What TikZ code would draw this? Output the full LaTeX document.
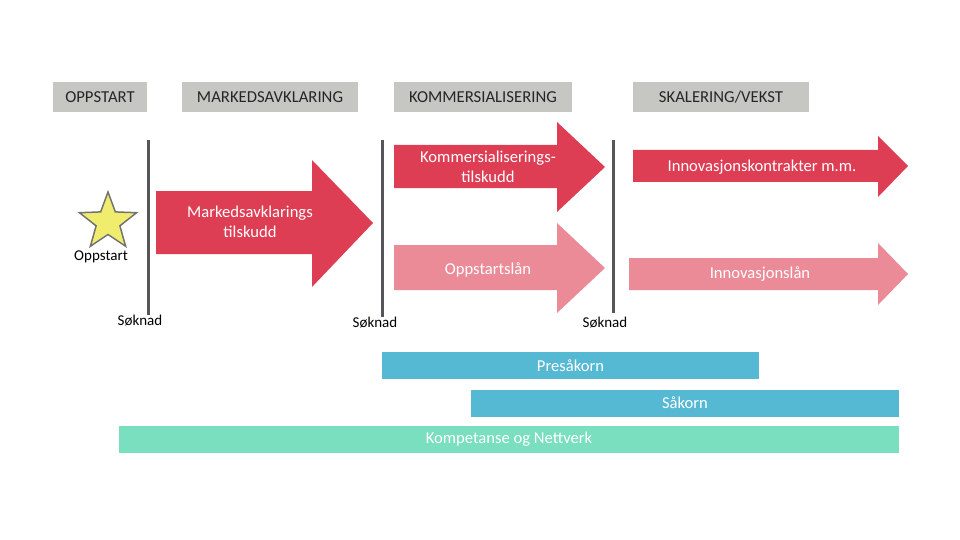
\documentclass[tikz,border=0pt]{standalone}
\usepackage{fontspec}
\setmainfont{Carlito}
\usepackage{xcolor}
\usepackage{tikz}
\usetikzlibrary{shapes.geometric}
\definecolor{hdrgray}{RGB}{198,198,194}
\definecolor{darkred}{RGB}{222,62,84}
\definecolor{lightred}{RGB}{236,139,152}
\definecolor{barblue}{RGB}{86,185,211}
\definecolor{bargreen}{RGB}{122,223,190}
\definecolor{linegray}{RGB}{85,85,90}
\tikzset{hdr/.style={fill=hdrgray,inner sep=0pt,minimum height=30pt,text=black!85,font=\fontsize{16.7}{20}\selectfont},
  lbl/.style={text=white,align=center,inner sep=0pt,font=\fontsize{16.6}{20}\selectfont},
  txt/.style={text=black,inner sep=0pt,font=\fontsize{15}{18}\selectfont},
  bar/.style={inner sep=0pt,minimum height=27pt,text=white,font=\fontsize{16.6}{20}\selectfont},
  sep/.style={draw=linegray,line width=3pt}}

\begin{document}
\begin{tikzpicture}[x=1pt,y=-1pt]
    \useasboundingbox (0,0) rectangle (960,540);

    \node[hdr,minimum width=94pt] (hopp) at (100,97) {OPPSTART};
    \node[hdr,minimum width=176pt] (hmark) at (270,97) {MARKEDSAVKLARING};
    \node[hdr,minimum width=178pt] (hkomm) at (483,97) {KOMMERSIALISERING};
    \node[hdr,minimum width=176pt] (hskal) at (721,97.5) {SKALERING/VEKST};

    \coordinate (s1t) at (148,140);
    \coordinate (s1b) at (148,315);
    \coordinate (s2t) at (382,140);
    \coordinate (s2b) at (382,317);
    \coordinate (s3t) at (613,140);
    \coordinate (s3b) at (613,313);
    \draw [sep] (s1t) -- (s1b);
    \draw [sep] (s2t) -- (s2b);
    \draw [sep] (s3t) -- (s3b);
    \node[txt] (sok1) at (140,321) {Søknad};
    \node[txt] (sok2) at (375,323) {Søknad};
    \node[txt] (sok3) at (605,323) {Søknad};

    \node[star,star points=5,star point ratio=2.4,minimum size=60pt,inner sep=0pt,fill={rgb,255:red,240;green,236;blue,110},draw=gray!90!black,line width=1.5pt] (oppstart) at (108,222) {};
    \node[txt] (oppstxt) at (101,257) {Oppstart};

    % tilskudd og lan
    \fill[darkred] (156,191) -- (312,191) -- (312,160) -- (373,223) -- (312,287) -- (312,254) -- (156,254) -- cycle;
    \node[lbl] (markt) at (250,222) {Markedsavklarings\\tilskudd};
    \fill[darkred] (394,145) -- (557,145) -- (557,122) -- (605,167) -- (557,212) -- (557,188) -- (394,188) -- cycle;
    \node[lbl] (kommt) at (488,167) {Kommersialiserings-\\tilskudd};
    \fill[lightred] (394,245) -- (557,245) -- (557,223) -- (605,268) -- (557,313) -- (557,290) -- (394,290) -- cycle;
    \node[lbl] (oppsl) at (488,270) {Oppstartslån};
    \fill[darkred] (633,150) -- (878,150) -- (878,136) -- (908,166) -- (878,197) -- (878,182) -- (633,182) -- cycle;
    \node[lbl] (innok) at (762,167) {Innovasjonskontrakter m.m.};
    \fill[lightred] (629,258) -- (878,258) -- (878,243) -- (908,274) -- (878,305) -- (878,290) -- (629,290) -- cycle;
    \node[lbl] (innol) at (760,274) {Innovasjonslån};

    \node[bar,fill=barblue,minimum width=377pt] (presakorn) at (570.5,365.5) {Presåkorn};
    \node[bar,fill=barblue,minimum width=428pt] (sakorn) at (685,403) {Såkorn};
    \node[bar,fill=bargreen,minimum width=780pt] (kompetanse) at (509,439.5) {Kompetanse og Nettverk};
\end{tikzpicture}
\end{document}
